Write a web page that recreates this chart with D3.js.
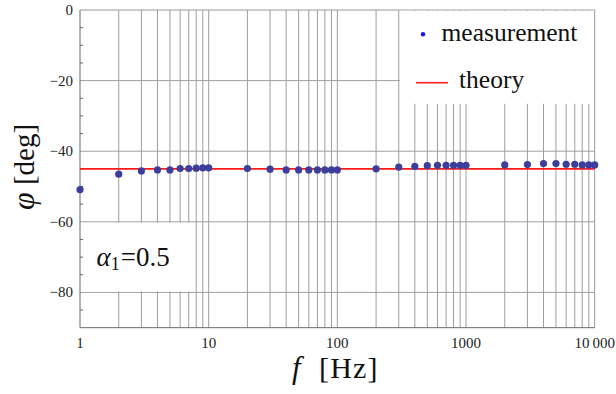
<!DOCTYPE html>
<html><head><meta charset="utf-8">
<script src="https://cdn.jsdelivr.net/npm/d3@7"></script>
<style>body{margin:0;background:#fff}svg{display:block}
svg text{font-family:"Liberation Serif","Times New Roman",Times,"DejaVu Serif",serif;}
</style>
</head><body>
<script>
// ---- data ----
const freqs = [1,2,3,4,5,6,7,8,9,10,20,30,40,50,60,70,80,90,100,200,300,400,500,600,700,800,900,1000,2000,3000,4000,5000,6000,7000,8000,9000,10000];
const phase = [-50.9,-46.5,-45.6,-45.3,-45.3,-44.9,-44.9,-44.8,-44.7,-44.7,-44.9,-45.1,-45.3,-45.3,-45.3,-45.3,-45.3,-45.3,-45.3,-45.0,-44.5,-44.3,-44.1,-44.0,-44.0,-44.0,-44.0,-44.0,-43.9,-43.8,-43.5,-43.5,-43.7,-43.7,-43.9,-43.9,-43.9];
const theoryValue = -45;
const theoryRange = [1, 10000];
const xTickValues = [1,10,100,1000,10000];
const xTickLabels = ["1","10","100","1000","10\u2009000"];
const xGridValues = [2,3,4,5,6,7,8,9,10,20,30,40,50,60,70,80,90,100,200,300,400,500,600,700,800,900,1000,2000,3000,4000,5000,6000,7000,8000,9000];
const yTickValues = [0,-20,-40,-60,-80];
const yTickLabels = ["0","\u221220","\u221240","\u221260","\u221280"];
const yMinorTicks = [-5,-10,-15,-25,-30,-35,-45,-50,-55,-65,-70,-75,-85];
const legendLabels = ["measurement","theory"];

const W = 616, H = 394;
const L = 80, R = 594.7, T = 10, B = 327.7;

const svg = d3.select("body").append("svg").attr("width", W).attr("height", H);
const x = d3.scaleLog().domain([1, 10000]).range([L, R]);
const y = d3.scaleLinear().domain([-90, 0]).range([B, T]);

// vertical gridlines
svg.append("g").selectAll("line").data(xGridValues).join("line")
  .attr("x1", d => x(d)).attr("x2", d => x(d))
  .attr("y1", T).attr("y2", B)
  .attr("stroke", "#9e9e9e").attr("stroke-width", 1);

// horizontal gridlines
svg.append("g").selectAll("line").data(yTickValues.filter(v => v < 0)).join("line")
  .attr("x1", L).attr("x2", R)
  .attr("y1", d => y(d)).attr("y2", d => y(d))
  .attr("stroke", "#9e9e9e").attr("stroke-width", 1);

// frame top and right
svg.append("line").attr("x1", L).attr("x2", R).attr("y1", T).attr("y2", T).attr("stroke", "#999").attr("stroke-width", 1);
svg.append("line").attr("x1", R).attr("x2", R).attr("y1", T).attr("y2", B).attr("stroke", "#999").attr("stroke-width", 1);

// white boxes (legend and annotation)
svg.append("rect").attr("x", 400).attr("y", T + 0.8).attr("width", R - 400 - 0.8).attr("height", 103 - T)
  .attr("fill", "#fff");
svg.append("rect").attr("x", L + 1).attr("y", y(-60) + 1).attr("width", 192 - L - 1).attr("height", y(-80) - y(-60) - 2)
  .attr("fill", "#fff");

// axes lines
svg.append("line").attr("x1", L).attr("x2", L).attr("y1", T).attr("y2", B).attr("stroke", "#666").attr("stroke-width", 1);
svg.append("line").attr("x1", L).attr("x2", R).attr("y1", B).attr("y2", B).attr("stroke", "#666").attr("stroke-width", 1);

// y minor ticks
svg.append("g").selectAll("line").data(yMinorTicks).join("line")
  .attr("x1", L).attr("x2", L + 3)
  .attr("y1", d => y(d)).attr("y2", d => y(d))
  .attr("stroke", "#666").attr("stroke-width", 1);

// y tick labels
svg.append("g").selectAll("text").data(yTickValues).join("text")
  .attr("x", 73).attr("y", d => y(d) + 5)
  .attr("text-anchor", "end")
  .attr("font-size", 15).attr("fill", "#222")
  .text((d, i) => yTickLabels[i]);

// x tick labels
svg.append("g").selectAll("text").data(xTickValues).join("text")
  .attr("x", d => x(d)).attr("y", 348)
  .attr("text-anchor", "middle")
  .attr("font-size", 15).attr("fill", "#222")
  .text((d, i) => xTickLabels[i]);

// theory line
svg.append("line")
  .attr("x1", x(theoryRange[0])).attr("x2", x(theoryRange[1]))
  .attr("y1", y(theoryValue)).attr("y2", y(theoryValue))
  .attr("stroke", "#ff1a1a").attr("stroke-width", 1.6);

// measurement points
svg.append("g").selectAll("circle").data(freqs).join("circle")
  .attr("cx", d => x(d)).attr("cy", (d, i) => y(phase[i]))
  .attr("r", 3.6).attr("fill", "#3d3d9c");

// legend
svg.append("circle").attr("cx", 423).attr("cy", 34.3).attr("r", 2.2).attr("fill", "#1414ee");
svg.append("text").attr("x", 441.5).attr("y", 40.5)
  .attr("font-size", 25.5).attr("fill", "#111").text(legendLabels[0]);
svg.append("line").attr("x1", 416).attr("x2", 448).attr("y1", 82.7).attr("y2", 82.7)
  .attr("stroke", "#ff1a1a").attr("stroke-width", 1.6);
svg.append("text").attr("x", 459).attr("y", 88)
  .attr("font-size", 25.5).attr("fill", "#111").text(legendLabels[1]);

// annotation alpha_1 = 0.5
const ann = svg.append("text").attr("x", 96.5).attr("y", 265.5)
  .attr("font-size", 27).attr("fill", "#111");
ann.append("tspan").attr("font-style", "italic").text("α");
ann.append("tspan").attr("font-size", 18).attr("dy", 4).text("1");
ann.append("tspan").attr("dy", -4).attr("dx", 1).text("=0.5");

// y axis title
const yt = svg.append("text").attr("transform", "translate(34,167) rotate(-90)")
  .attr("text-anchor", "middle")
  .attr("font-size", 29).attr("fill", "#111");
yt.append("tspan").attr("font-style", "italic").attr("font-size", 32).text("φ");
yt.append("tspan").text(" [deg]");

// x axis title
svg.append("text").attr("x", 292).attr("y", 378)
  .attr("font-size", 31).attr("font-style", "italic").attr("fill", "#111").text("f");
svg.append("text").attr("x", 319).attr("y", 378)
  .attr("font-size", 30).attr("letter-spacing", 1.2).attr("fill", "#111").text("[Hz]");
</script>
</body></html>
